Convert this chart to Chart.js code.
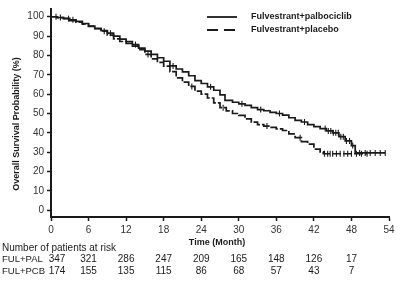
<!DOCTYPE html>
<html>
<head>
<meta charset="utf-8">
<script src="https://cdn.jsdelivr.net/npm/chart.js@4.4.0/dist/chart.umd.min.js"></script>
<style>
  html, body { margin: 0; padding: 0; background: #fff; }
  #wrap { width: 400px; height: 281px; position: relative; }
</style>
</head>
<body>
<div id="wrap"><canvas id="kmChart"></canvas></div>
<script>
// Kaplan-Meier steps (months, survival %)
var palTimes = [0, 1, 2, 3, 4, 5, 6, 7, 8, 9, 10, 11, 12, 13, 14, 15, 16, 17, 18, 19, 20, 21, 22, 23, 24, 25, 26, 27, 27.8, 29, 30, 31, 32, 33, 34, 35, 36, 37, 38, 39, 40, 41, 42, 43, 44, 45, 46, 47, 48, 48.6, 53.4];
var palSurv  = [100, 99.6, 99.2, 98.4, 97.6, 96.5, 95.2, 94, 92.8, 91.5, 90, 88.4, 87.2, 85.6, 83.8, 82.2, 80.6, 78.8, 77, 74.6, 73, 71.5, 69.5, 67, 65.5, 63.8, 62, 59.6, 56.8, 55.8, 55, 54.2, 53, 52, 51.4, 50.6, 50, 49.2, 47.8, 46.4, 45.6, 44.2, 43.2, 42.2, 41, 40, 38, 35.8, 33.4, 29.6, 29.6];

var pcbTimes = [0, 1, 2, 3, 4, 5, 6, 7, 8, 9, 10, 11, 12, 13, 14, 15, 16, 17, 18, 19, 20, 21, 22, 23, 24, 25, 26, 27, 28, 29, 30, 31, 32, 33, 34, 35, 36, 37, 38, 39, 40, 41, 42, 43, 43.5, 50.5];
var pcbSurv  = [100, 99.5, 99, 98, 97.2, 96.2, 95, 93.8, 92.5, 90.5, 88.6, 87.2, 86.2, 84.8, 83, 80.5, 78.2, 76.4, 74.5, 71.6, 68.4, 66.2, 64, 61.6, 60, 58, 55.5, 53, 51.3, 50, 49, 47.2, 45.5, 44.2, 43.5, 42.8, 42, 41.2, 39.5, 37.5, 35.5, 34.2, 31.6, 30.2, 29.2, 29.2];

// censored times (tick marks)
var palCensor = [1.5, 3.5, 9.5, 13.5, 19.5, 25.5, 30.5, 33.5, 36.5, 40.5, 43.8, 44.3, 44.7, 45.1, 45.5, 45.9, 46.3, 46.7, 47.2, 47.7, 48.2, 49.3, 50.2, 51, 51.8, 52.6, 53.4];
var pcbCensor = [0.8, 2.8, 8.5, 15.5, 22.5, 27.5, 34.5, 39.8, 43.7, 44.2, 44.6, 45, 45.6, 46.2, 46.8, 47.4, 48, 48.8, 49.6, 50.5];

var xTicks = [0, 6, 12, 18, 24, 30, 36, 42, 48, 54];
var yTicks = [0, 10, 20, 30, 40, 50, 60, 70, 80, 90, 100];

var riskLabels = ['FUL+PAL', 'FUL+PCB'];
var riskPal = [347, 321, 286, 247, 209, 165, 148, 126, 17];
var riskPcb = [174, 155, 135, 115, 86, 68, 57, 43, 7];

var seriesNames = ['Fulvestrant+palbociclib', 'Fulvestrant+placebo'];

function toPoints(times, surv) {
    return times.map(function (t, i) { return { x: t, y: surv[i] }; });
}
function survAt(times, surv, t) {
    var v = surv[0];
    for (var i = 0; i < times.length; i++) {
        if (times[i] <= t) v = surv[i];
    }
    return v;
}
function censorPoints(cens, times, surv) {
    return cens.map(function (t) { return { x: t, y: survAt(times, surv, t) }; });
}

var FONT = "'Liberation Sans', Arial, sans-serif";
var INK = '#1a1a1a';

// legend, axis titles, at-risk table
var textPlugin = {
    id: 'kmText',
    afterDraw: function (chart) {
        var ctx = chart.ctx;
        var xs = chart.scales.x;
        ctx.save();
        ctx.fillStyle = INK;
        ctx.strokeStyle = INK;

        // legend
        ctx.lineWidth = 1.8;
        ctx.beginPath(); ctx.moveTo(207, 17); ctx.lineTo(237, 17); ctx.stroke();
        ctx.setLineDash([11, 6]);
        ctx.beginPath(); ctx.moveTo(207, 30); ctx.lineTo(237, 30); ctx.stroke();
        ctx.setLineDash([]);
        ctx.font = 'bold 9px ' + FONT;
        ctx.textAlign = 'left';
        ctx.textBaseline = 'middle';
        ctx.fillText(seriesNames[0], 251, 17);
        ctx.fillText(seriesNames[1], 251, 30);

        // x title
        ctx.textAlign = 'center';
        ctx.fillText('Time (Month)', 217, 243);

        // y title
        ctx.save();
        ctx.translate(17, 124);
        ctx.rotate(-Math.PI / 2);
        ctx.fillText('Overall Survival Probability (%)', 0, 0);
        ctx.restore();

        // number at risk
        ctx.font = '10px ' + FONT;
        ctx.textAlign = 'left';
        ctx.fillText('Number of patients at risk', 2, 248);
        ctx.font = '9.5px ' + FONT;
        ctx.fillText(riskLabels[0], 2, 259);
        ctx.fillText(riskLabels[1], 2, 271);
        ctx.font = '10px ' + FONT;
        ctx.textAlign = 'center';
        [riskPal, riskPcb].forEach(function (row, r) {
            row.forEach(function (n, i) {
                var px = xs.getPixelForValue(xTicks[i]);
                if (i === 0) px += 6;
                ctx.fillText(String(n), px, r === 0 ? 259 : 271);
            });
        });
        ctx.restore();
    }
};

var ctxKm = document.getElementById('kmChart').getContext('2d');
new Chart(ctxKm, {
    type: 'line',
    data: {
        datasets: [
            {
                label: seriesNames[0],
                data: toPoints(palTimes, palSurv),
                stepped: true,
                borderColor: INK,
                borderWidth: 1.7,
                pointRadius: 0,
                fill: false
            },
            {
                label: seriesNames[1],
                data: toPoints(pcbTimes, pcbSurv),
                stepped: true,
                borderColor: INK,
                borderWidth: 1.7,
                borderDash: [9, 2],
                pointRadius: 0,
                fill: false
            },
            {
                label: 'censor PAL',
                data: censorPoints(palCensor, palTimes, palSurv),
                showLine: false,
                pointStyle: 'line',
                rotation: 90,
                pointRadius: 3,
                pointBorderWidth: 1.1,
                pointBorderColor: INK
            },
            {
                label: 'censor PCB',
                data: censorPoints(pcbCensor, pcbTimes, pcbSurv),
                showLine: false,
                pointStyle: 'line',
                rotation: 90,
                pointRadius: 3,
                pointBorderWidth: 1.1,
                pointBorderColor: INK
            }
        ]
    },
    options: {
        responsive: true,
        maintainAspectRatio: false,
        animation: false,
        layout: { padding: { top: 4, right: 11, left: 0, bottom: 0 } },
        plugins: {
            legend: { display: false },
            tooltip: { enabled: false }
        },
        scales: {
            x: {
                type: 'linear',
                min: 0,
                max: 54,
                afterFit: function (s) { s.height = 64; },
                afterBuildTicks: function (s) { s.ticks = xTicks.map(function (v) { return { value: v }; }); },
                grid: { drawOnChartArea: false, drawTicks: true, tickLength: 4, color: INK, tickWidth: 1.5 },
                border: { display: true, color: INK, width: 2 },
                ticks: { color: '#333', font: { family: FONT, size: 10 }, padding: 3, maxRotation: 0 }
            },
            y: {
                type: 'linear',
                min: -3.5,
                max: 104,
                afterFit: function (s) { s.width = 51; },
                afterBuildTicks: function (s) { s.ticks = yTicks.map(function (v) { return { value: v }; }); },
                grid: { drawOnChartArea: false, drawTicks: true, tickLength: 4, color: INK, tickWidth: 1.5 },
                border: { display: true, color: INK, width: 2 },
                ticks: { color: '#333', font: { family: FONT, size: 10 }, padding: 3 }
            }
        }
    },
    plugins: [textPlugin]
});
</script>
</body>
</html>
